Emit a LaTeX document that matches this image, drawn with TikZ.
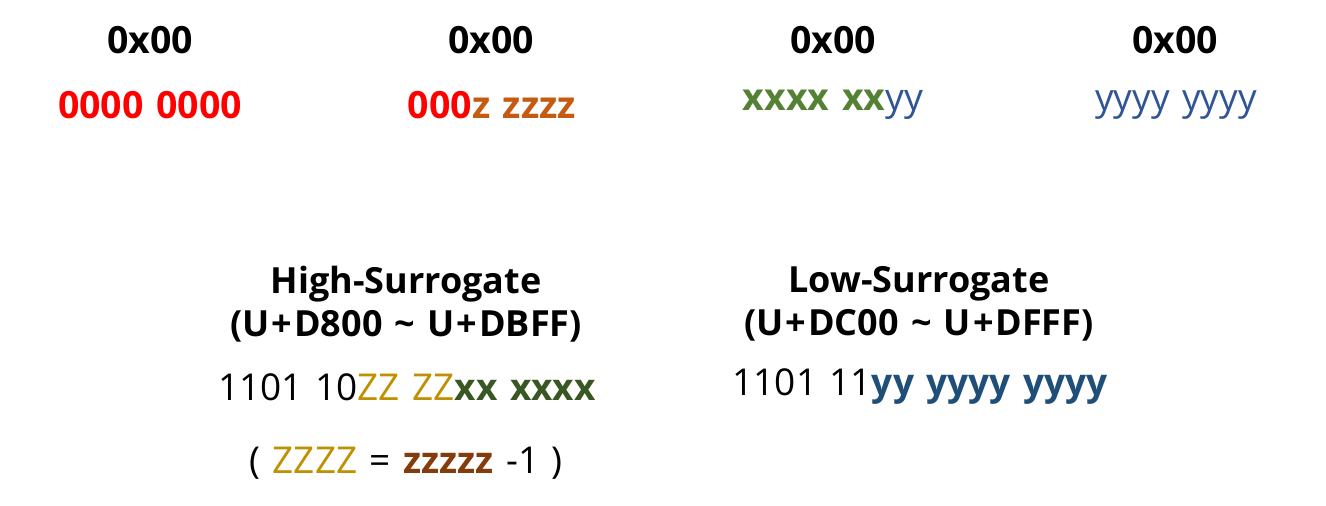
\documentclass[tikz,border=0pt]{standalone}
\usepackage{fontspec}
\setmainfont{Open Sans}[WordSpace=1.3]
\definecolor{bitred}{HTML}{FF0000}
\definecolor{bitz}{HTML}{C55A11}
\definecolor{bitx}{HTML}{548235}
\definecolor{bity}{HTML}{2F5597}
\definecolor{codeZ}{HTML}{BF9000}
\definecolor{codex}{HTML}{385723}
\definecolor{codey}{HTML}{1F4E79}
\definecolor{codez}{HTML}{843C0C}
\newcommand{\cpplus}{\kern2pt+\kern2pt}
\begin{document}
\begin{tikzpicture}[x=1pt,y=-1pt]
        \tikzstyle{byte}=[inner sep=0pt,font=\fontsize{37.5}{40}\selectfont\bfseries]
        \tikzstyle{bits}=[inner sep=0pt,font=\fontsize{37}{40}\selectfont]
        \tikzstyle{title}=[inner sep=0pt,align=center,font=\fontsize{36}{43}\selectfont\bfseries]

        \useasboundingbox (0,0) rectangle (1326,506);

        % UTF-32 bytes
        \node [byte] (b0) at (150,40) {0x00};
        \node [byte] (b1) at (491,40) {0x00};
        \node [byte] (b2) at (833,40) {0x00};
        \node [byte] (b3) at (1175,40) {0x00};

        \node [byte, text=bitred] (v0) at (150,105) {0000 0000};
        \node [byte] (v1) at (492,105) {\textcolor{bitred}{000}\textcolor{bitz}{z zzzz}};
        \node [byte] (v2) at (833,105) {\textcolor{bitx}{xxxx xx}\textcolor{bity}{\mdseries yy}};
        \node [bits, text=bity] (v3) at (1176,105) {yyyy yyyy};

        % surrogates
        \node [title] (hi) at (406,304) {High-Surrogate\\(U\cpplus D800 \textasciitilde{} U\cpplus DBFF)};
        \node [title] (lo) at (919,304) {Low-Surrogate\\(U\cpplus DC00 \textasciitilde{} U\cpplus DFFF)};

        \node [bits] (hibits) at (407,387) {1101 10\textcolor{codeZ}{ZZ ZZ}\textcolor{codex}{\bfseries xx xxxx}};
        \node [bits] (lobits) at (920,387) {1101 11\textcolor{codey}{\bfseries yy yyyy yyyy}};
        \node [bits] (rule) at (406,463) {( \textcolor{codeZ}{ZZZZ} = \textcolor{codez}{\bfseries zzzzz} -1 )};
\end{tikzpicture}
\end{document}
